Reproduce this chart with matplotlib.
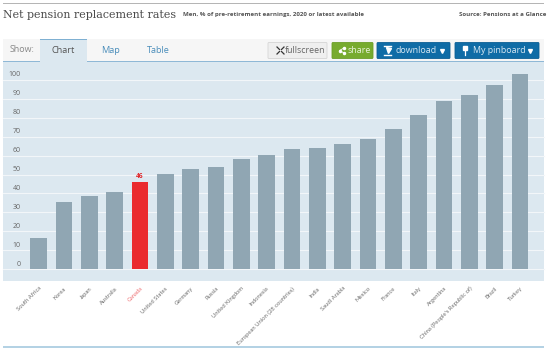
import matplotlib
matplotlib.use('Agg')
import matplotlib.pyplot as plt
from matplotlib.patches import Rectangle, FancyBboxPatch

countries = ["South Africa","Korea","Japan","Australia","Canada","United States","Germany","Russia",
             "United Kingdom","Indonesia","European Union (28 countries)","India","Saudi Arabia","Mexico",
             "France","Italy","Argentina","China (People's Republic of)","Brazil","Turkey"]
values = [16.4,35.4,38.6,40.7,46,50.3,52.9,54,58,60.3,63.5,64,66,68.8,74,81.5,89,92,97.4,103]
yticks = list(range(0,101,10))
highlight = "Canada"

W,H = 549,350
plt.rcParams['font.family'] = ['Open Sans','DejaVu Sans']
fig = plt.figure(figsize=(W/100,H/100),dpi=100,facecolor='white')

bg = fig.add_axes([0,0,1,1]); bg.set_xlim(0,W); bg.set_ylim(H,0); bg.axis('off')
def rect(x,y,w,h,c,z=1):
    bg.add_patch(Rectangle((x,y),w,h,facecolor=c,edgecolor='none',zorder=z))
rect(3,2.5,541,1.2,'#b5b5b5')
rect(3,39,541,23,'#f6f6f6')
rect(3,61.2,541,0.9,'#8fb8d6',3)
rect(40,39,47,23,'#dce8f0',4)
rect(40,39,47,0.9,'#7fb0d2',5)
rect(3,62,541,219,'#dce8f0')
rect(3,346,541,1.6,'#b4d2e4')
bg.text(3,14.5,"Net pension replacement rates",family='DejaVu Serif',fontsize=7.9,color='#4a4a4a',va='center')
bg.text(183,14.5,"Men, % of pre-retirement earnings, 2020 or latest available",fontsize=4.4,fontweight='bold',color='#555555',va='center')
bg.text(546,14.5,"Source: Pensions at a Glance",fontsize=4.4,fontweight='bold',color='#555555',va='center',ha='right')
bg.text(9.5,49.5,"Show:",fontsize=6.4,color='#888888',va='center')
bg.text(63.5,50.5,"Chart",fontsize=6.6,color='#555555',va='center',ha='center',zorder=6)
bg.text(111,50.5,"Map",fontsize=6.6,color='#4a8dba',va='center',ha='center')
bg.text(158,50.5,"Table",fontsize=6.6,color='#4a8dba',va='center',ha='center')
def btn(x,w,fc,ec):
    bg.add_patch(FancyBboxPatch((x+1,42.5),w-2,16,boxstyle='round,pad=0,rounding_size=1',facecolor=fc,edgecolor=ec,linewidth=0.6,zorder=4))
btn(267,61,'#efefef','#d5d5d5')
btn(331,43,'#77ab2e','#6b9e28')
btn(376,75,'#0f6ca6','#0c5f94')
btn(454,86,'#0f6ca6','#0c5f94')
bg.text(285,50.5,"fullscreen",fontsize=6.4,color='#666666',va='center',zorder=5)
bg.text(347,50.5,"share",fontsize=6.4,color='#e8f2da',va='center',zorder=5)
bg.text(396,50.5,"download",fontsize=6.4,color='#d7e8f3',va='center',zorder=5)
bg.text(473,50.5,"My pinboard",fontsize=6.4,color='#d7e8f3',va='center',zorder=5)
# button icons
for dx,dy in [(-1,-1),(1,-1),(-1,1),(1,1)]:
    bg.plot([280.5+dx*1,280.5+dx*3.5],[50.5+dy*1,50.5+dy*3.5],color='#333333',lw=0.9,zorder=5)
bg.plot([344,339.5,344],[48,50.5,53],color='white',lw=0.6,marker='o',ms=1.5,zorder=5)
bg.plot([384,391],[45.8,45.8],color='white',lw=1,zorder=5); bg.plot([384,391],[54.5,54.5],color='white',lw=1,zorder=5)
bg.plot([387.5],[50],marker='v',ms=3.6,color='white',zorder=5)
bg.plot([464.5],[48],marker='s',ms=3.2,color='white',zorder=5); bg.plot([464.5,464.5],[48,55],color='white',lw=0.9,zorder=5)
bg.plot([442,530],[50.5,50.5],ls='none',marker='v',ms=2.8,color='white',zorder=5)

# chart axes: value 0 at y=269, 100 at y=80; category spacing 25.33 px from x=38.7
left,right,top,bottom = 26,533,62,281
ax = fig.add_axes([left/W,1-bottom/H,(right-left)/W,(bottom-top)/H])
ax.patch.set_alpha(0)
sp,x0 = 25.33,38.7
ax.set_xlim((left-x0)/sp,(right-x0)/sp)
ax.set_ylim((269-bottom)/1.89,(269-top)/1.89)
for s in ax.spines.values(): s.set_visible(False)
ax.tick_params(length=0)
xs = list(range(len(countries)))
ax.set_yticks([])
for v in yticks:
    ax.plot([(3-x0)/sp,(544-x0)/sp],[v,v],color='#f2f6f9',lw=0.8,clip_on=False,zorder=1)
    ax.annotate(str(v),(0,v),xycoords=('axes fraction','data'),xytext=(-5,5),textcoords='offset pixels',
                ha='right',va='center',fontsize=5,color='#666666')
colors = ['#ea2a2e' if c==highlight else '#90a6b3' for c in countries]
ax.bar(xs,values,width=16.7/sp,color=colors,edgecolor='none',zorder=2)
ax.text(xs[countries.index(highlight)],46+1.2,"46",ha='center',va='bottom',fontsize=4.8,fontweight='bold',color='#e0262a')
ax.set_xticks(xs)
ax.set_xticklabels(countries,rotation=45,ha='right',rotation_mode='anchor',fontsize=4.2,color='#6f6f6f',family='Lato')
ax.tick_params(axis='x',pad=3.5)
ax.get_xticklabels()[countries.index(highlight)].set_color('#ee6f72')
fig.savefig('out.png',dpi=100)
